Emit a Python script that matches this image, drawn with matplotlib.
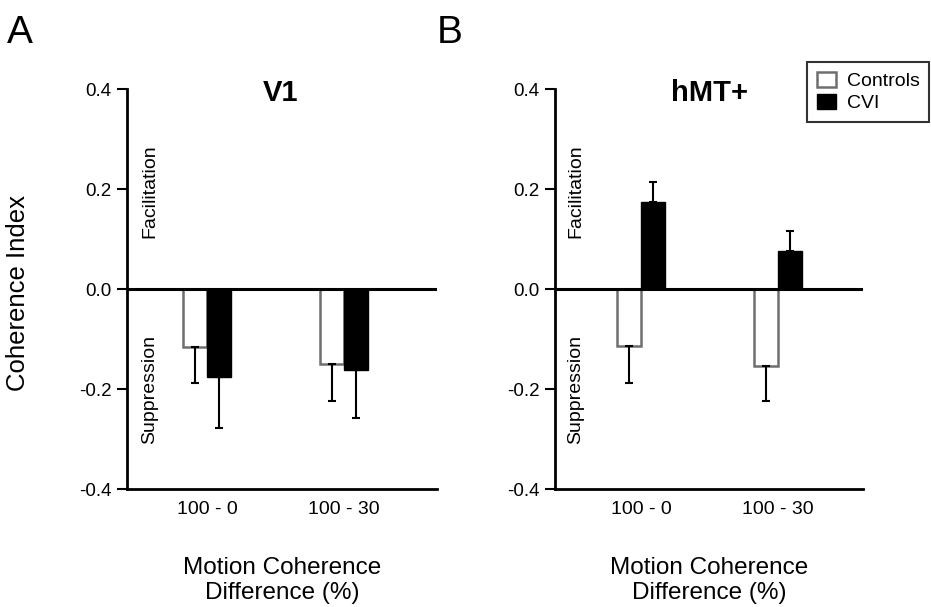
import numpy as np
import matplotlib
matplotlib.use("Agg")
import matplotlib.pyplot as plt
from matplotlib.patches import Patch

plt.rcParams['font.family'] = ['Liberation Sans', 'DejaVu Sans']

# data
conditions = ['100 - 0', '100 - 30']
v1_controls = [-0.116, -0.150]
v1_controls_err = [0.072, 0.074]
v1_cvi = [-0.176, -0.162]
v1_cvi_err = [0.102, 0.096]
mt_controls = [-0.114, -0.154]
mt_controls_err = [0.074, 0.070]
mt_cvi = [0.174, 0.076]
mt_cvi_err = [0.040, 0.040]

W, H = 931, 607
fig = plt.figure(figsize=(W / 100, H / 100), dpi=100)

ax1 = fig.add_axes([127 / W, 1 - 489 / H, 310 / W, 400 / H])
ax2 = fig.add_axes([555 / W, 1 - 489 / H, 308 / W, 400 / H])

gray = '#6e6e6e'
bw = 0.175
ekw = dict(ecolor='black', elinewidth=1.5, capsize=2.7, capthick=1.5)


def one_sided(vals, errs):
    # error bars only away from zero
    lo = [e if v < 0 else 0 for v, e in zip(vals, errs)]
    hi = [e if v >= 0 else 0 for v, e in zip(vals, errs)]
    return [lo, hi]


def panel(ax, title, tx, ctrl, ctrl_err, cvi, cvi_err, xlim, fx):
    x = np.arange(len(conditions))
    ax.bar(x - bw / 2, ctrl, bw, color='white', edgecolor=gray, linewidth=1.8,
           yerr=one_sided(ctrl, ctrl_err), error_kw=ekw)
    ax.bar(x + bw / 2, cvi, bw, color='black', edgecolor='black', linewidth=1.0,
           yerr=one_sided(cvi, cvi_err), error_kw=ekw)
    ax.axhline(0, color='black', linewidth=2.2, zorder=5)
    ax.set_ylim(-0.4, 0.4)
    ax.set_xlim(*xlim)
    ax.set_yticks([-0.4, -0.2, 0.0, 0.2, 0.4])
    ax.set_yticklabels(['-0.4', '-0.2', '0.0', '0.2', '0.4'])
    ax.set_xticks(x)
    ax.set_xticklabels(conditions)
    ax.tick_params(axis='y', direction='out', length=7, width=1.5, labelsize=13.5, pad=4)
    ax.tick_params(axis='x', length=0, labelsize=14, pad=9)
    for s in ['top', 'right']:
        ax.spines[s].set_visible(False)
    for s in ['left', 'bottom']:
        ax.spines[s].set_linewidth(2)
    ax.set_xlabel('Motion Coherence\nDifference (%)', fontsize=17.5, linespacing=1.15)
    ax.xaxis.set_label_coords(0.5, -0.17)
    ax.text(tx, 0.97, title, transform=ax.transAxes, ha='center', va='baseline',
            fontsize=21, fontweight='bold')
    fig.text(fx / W, 1 - 191 / H, 'Facilitation', rotation=90, ha='center',
             va='center', fontsize=14)
    fig.text(fx / W, 1 - 389 / H, 'Suppression', rotation=90, ha='center',
             va='center', fontsize=14)


panel(ax1, 'V1', 0.494, v1_controls, v1_controls_err, v1_cvi, v1_cvi_err,
      (-0.584, 1.679), 150)
panel(ax2, 'hMT+', 0.503, mt_controls, mt_controls_err, mt_cvi, mt_cvi_err,
      (-0.628, 1.62), 576)

ax1.set_ylabel('Coherence Index', fontsize=18.5)
ax1.yaxis.set_label_coords(-0.313, 0.49)

fig.text(7 / W, 1 - 43 / H, 'A', fontsize=28, ha='left', va='baseline')
fig.text(437 / W, 1 - 43 / H, 'B', fontsize=28, ha='left', va='baseline')

handles = [Patch(facecolor='white', edgecolor=gray, linewidth=1.8),
           Patch(facecolor='black', edgecolor='black')]
leg = fig.legend(handles, ['Controls', 'CVI'], loc='upper left',
                 bbox_to_anchor=(807 / W, 1 - 62 / H), fontsize=14,
                 frameon=True, fancybox=False, edgecolor='black',
                 handlelength=1.0, handleheight=0.8, handletextpad=0.55,
                 borderpad=0.5, labelspacing=0.2, borderaxespad=0)
leg.get_frame().set_linewidth(1.5)

fig.savefig('out.png', dpi=100)
